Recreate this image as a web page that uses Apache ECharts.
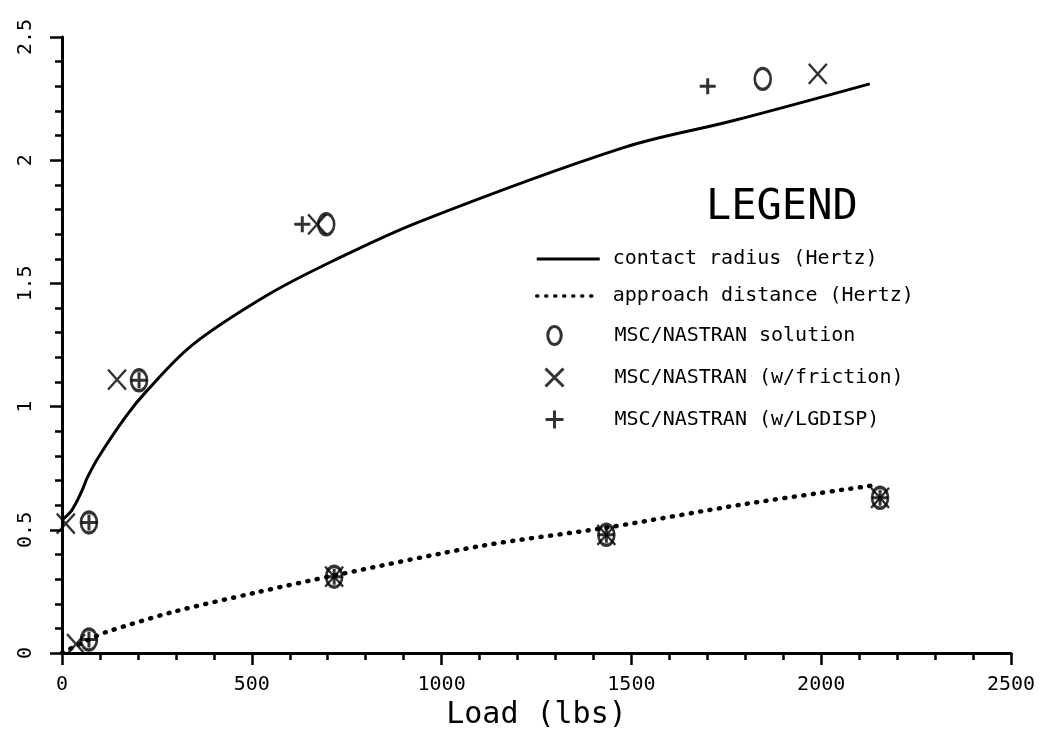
<!DOCTYPE html>
<html>
<head>
<meta charset="utf-8">
<script src="https://cdn.jsdelivr.net/npm/echarts@6/dist/echarts.min.js"></script>
<style>
html, body { margin: 0; padding: 0; background: #ffffff; }
#chart { width: 1053px; height: 735px; }
</style>
</head>
<body>
<div id="chart"></div>
<script>
// ---- data ----
const seriesNames = [
  'contact radius (Hertz)',
  'approach distance (Hertz)',
  'MSC/NASTRAN solution',
  'MSC/NASTRAN (w/friction)',
  'MSC/NASTRAN (w/LGDISP)'
];

const contactLoad   = [0, 26, 53, 66, 98, 168, 221, 343, 538, 712, 941, 1477, 1767, 2128];
const contactRadius = [0.54, 0.58, 0.66, 0.71, 0.80, 0.96, 1.06, 1.25, 1.45, 1.59, 1.75, 2.05, 2.16, 2.31];

const approachLoad  = [0, 71, 116, 290, 512, 717, 1108, 1434, 1804, 2136];
const approachDist  = [0, 0.055, 0.085, 0.166, 0.246, 0.315, 0.436, 0.509, 0.606, 0.68];

const solutionLoad  = [71, 203, 696, 1846, 71, 717, 1434, 2155];
const solutionVal   = [0.53, 1.107, 1.74, 2.33, 0.055, 0.31, 0.48, 0.63];

const frictionLoad  = [10, 145, 672, 1991, 37, 717, 1434, 2155];
const frictionVal   = [0.525, 1.11, 1.74, 2.35, 0.036, 0.31, 0.48, 0.63];

const lgdispLoad    = [71, 203, 633, 1701, 71, 717, 1434, 2155];
const lgdispVal     = [0.53, 1.107, 1.74, 2.30, 0.055, 0.31, 0.48, 0.63];

const xTicks = [0, 500, 1000, 1500, 2000, 2500];
const yTicks = [0, 0.5, 1, 1.5, 2, 2.5];

// ---- helpers ----
const zip = (xs, ys) => xs.map((x, i) => [x, ys[i]]);
const FONT = 'DejaVu Sans Mono';
const BLACK = '#000000';

const symO    = 'path://M7.5,0 C11.6,0 15,4.5 15,10 C15,15.5 11.6,20 7.5,20 C3.4,20 0,15.5 0,10 C0,4.5 3.4,0 7.5,0 Z';
const symX    = 'path://M0,0 L20,20 M20,0 L0,20';
const symPlus = 'path://M10,0 L10,20 M0,10 L20,10';

const chart = echarts.init(document.getElementById('chart'), null, { renderer: 'canvas' });

const option = {
  backgroundColor: '#ffffff',
  animation: false,
  title: {
    text: 'LEGEND',
    left: 706,
    top: 187,
    padding: 0,
    textStyle: { fontFamily: FONT, fontSize: 42, fontWeight: 'normal', color: BLACK }
  },
  legend: [
    {
      data: [
        { name: seriesNames[0], lineStyle: { width: 3, color: BLACK, type: 'solid' } },
        { name: seriesNames[1], lineStyle: { width: 3.5, color: BLACK, type: [1, 8], cap: 'round' } }
      ],
      orient: 'vertical',
      left: 530,
      top: 244,
      itemWidth: 63,
      itemHeight: 20,
      itemGap: 17,
      selectedMode: false,
      itemStyle: { color: 'rgba(0,0,0,0)', borderColor: 'rgba(0,0,0,0)', borderWidth: 0 },
      textStyle: { fontFamily: FONT, fontSize: 20, color: BLACK, padding: [0, 0, 0, 8] }
    },
    {
      data: [seriesNames[2], seriesNames[3], seriesNames[4]],
      orient: 'vertical',
      left: 539,
      top: 320,
      itemWidth: 66,
      itemHeight: 18,
      itemGap: 21,
      selectedMode: false,
      itemStyle: { borderColor: BLACK, borderWidth: 3 },
      textStyle: { fontFamily: FONT, fontSize: 20, color: BLACK, padding: [0, 0, 0, 22] }
    }
  ],
  grid: { left: 62, right: 42, top: 37, bottom: 79, containLabel: false },
  xAxis: {
    type: 'value',
    min: xTicks[0],
    max: xTicks[xTicks.length - 1],
    interval: xTicks[1] - xTicks[0],
    name: 'Load (lbs)',
    nameLocation: 'middle',
    nameGap: 44,
    nameTextStyle: { fontFamily: FONT, fontSize: 30, color: BLACK },
    axisLine: { show: true, onZero: false, lineStyle: { color: BLACK, width: 3 } },
    axisTick: { show: true, length: 12, lineStyle: { color: BLACK, width: 2.5 } },
    minorTick: { show: true, splitNumber: 5, length: 7, lineStyle: { color: BLACK, width: 2.5 } },
    splitLine: { show: false },
    axisLabel: {
      fontFamily: FONT, fontSize: 20, color: BLACK, margin: 22,
      formatter: (v) => String(v)
    }
  },
  yAxis: {
    type: 'value',
    min: yTicks[0],
    max: yTicks[yTicks.length - 1],
    interval: yTicks[1] - yTicks[0],
    axisLine: { show: true, onZero: false, lineStyle: { color: BLACK, width: 3 } },
    axisTick: { show: true, length: 12, lineStyle: { color: BLACK, width: 2.5 } },
    minorTick: { show: true, splitNumber: 5, length: 7, lineStyle: { color: BLACK, width: 2.5 } },
    splitLine: { show: false },
    axisLabel: {
      fontFamily: FONT, fontSize: 20, color: BLACK, margin: 26, rotate: 90,
      formatter: (v) => String(v)
    }
  },
  series: [
    {
      name: seriesNames[0],
      type: 'line',
      data: zip(contactLoad, contactRadius),
      smooth: 0.35,
      symbol: 'none',
      itemStyle: { color: BLACK },
      lineStyle: { color: BLACK, width: 3 }
    },
    {
      name: seriesNames[1],
      type: 'line',
      data: zip(approachLoad, approachDist),
      smooth: 0.3,
      symbol: 'none',
      itemStyle: { color: BLACK },
      lineStyle: { color: BLACK, width: 4.5, type: [1, 8.5], cap: 'round' }
    },
    {
      name: seriesNames[2],
      type: 'scatter',
      data: zip(solutionLoad, solutionVal),
      symbol: symO,
      symbolSize: [16, 21],
      itemStyle: { color: 'rgba(0,0,0,0)', borderColor: BLACK, borderWidth: 3 }
    },
    {
      name: seriesNames[3],
      type: 'scatter',
      data: zip(frictionLoad, frictionVal),
      symbol: symX,
      symbolSize: [18, 20],
      itemStyle: { color: 'rgba(0,0,0,0)', borderColor: BLACK, borderWidth: 2.4 }
    },
    {
      name: seriesNames[4],
      type: 'scatter',
      data: zip(lgdispLoad, lgdispVal),
      symbol: symPlus,
      symbolSize: [16, 16],
      itemStyle: { color: 'rgba(0,0,0,0)', borderColor: BLACK, borderWidth: 3 }
    }
  ]
};

chart.setOption(option);
</script>
</body>
</html>
